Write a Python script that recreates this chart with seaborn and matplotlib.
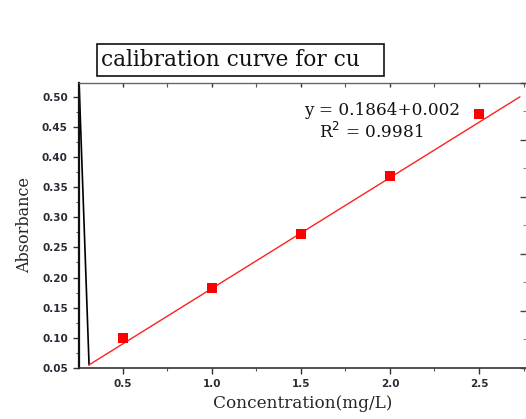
import matplotlib
matplotlib.use('Agg')
import matplotlib.pyplot as plt
import matplotlib.patches as patches
from matplotlib.ticker import MultipleLocator, NullFormatter
import pandas as pd
import seaborn as sns

# measured calibration points
conc = [0.5, 1.0, 1.5, 2.0, 2.5]
absorb = [0.099, 0.182, 0.272, 0.368, 0.472]

# fitted line as drawn in the original (red) and the stray black segment
fit_x = [0.31, 2.73]
fit_y = [0.055, 0.500]
stray_x = [0.255, 0.31]
stray_y = [0.515, 0.055]

title_text = 'calibration curve for cu'
eq_text = 'y = 0.1864+0.002'
r2_text = 'R$^2$ = 0.9981'

sns.set_style('ticks')
plt.rcParams['font.family'] = ['DejaVu Serif']

fig = plt.figure(figsize=(5.26, 4.19), dpi=100)
ax = fig.add_axes([0.150, 0.122, 0.850, 0.680])

df_pts = pd.DataFrame({'conc': conc, 'abs': absorb})
df_fit = pd.DataFrame({'x': fit_x, 'y': fit_y})
df_stray = pd.DataFrame({'x': stray_x, 'y': stray_y})

sns.lineplot(data=df_stray, x='x', y='y', ax=ax, color='black', linewidth=1.2, sort=False)
sns.lineplot(data=df_fit, x='x', y='y', ax=ax, color='#ff2020', linewidth=1.0, sort=False)
sns.scatterplot(data=df_pts, x='conc', y='abs', ax=ax, marker='s', s=42,
                color='#ff0000', edgecolor='#ff0000', linewidth=0, zorder=5)

ax.set_xlim(0.253, 2.764)
ax.set_ylim(0.05, 0.523)
ax.xaxis.set_major_locator(MultipleLocator(0.5))
ax.xaxis.set_minor_locator(MultipleLocator(0.25))
ax.yaxis.set_major_locator(MultipleLocator(0.05))
ax.yaxis.set_minor_locator(MultipleLocator(0.025))
ax.set_xticks([0.5, 1.0, 1.5, 2.0, 2.5])
ax.set_yticks([0.05, 0.10, 0.15, 0.20, 0.25, 0.30, 0.35, 0.40, 0.45, 0.50])
ax.set_xticklabels(['0.5', '1.0', '1.5', '2.0', '2.5'])
ax.set_yticklabels(['%.2f' % v for v in ax.get_yticks()])

for lab in ax.get_xticklabels() + ax.get_yticklabels():
    lab.set_family('DejaVu Sans')
    lab.set_fontweight('bold')
    lab.set_fontsize(7.5)
    lab.set_color('#2a2a35')

ax.tick_params(which='major', direction='out', length=4, width=1, color='#333333', pad=4)
ax.tick_params(which='minor', direction='out', length=2, width=0.8, color='#555555')
ax.tick_params(axis='x', which='both', top=True, labeltop=False)

ax.spines['left'].set_linewidth(1.6)
ax.spines['left'].set_color('#111111')
ax.spines['bottom'].set_linewidth(1.2)
ax.spines['bottom'].set_color('#333333')
ax.spines['top'].set_linewidth(1.0)
ax.spines['top'].set_color('#666666')
ax.spines['right'].set_visible(False)

# the top ticks point inward
for t in ax.xaxis.get_major_ticks() + ax.xaxis.get_minor_ticks():
    t.tick2line.set_marker(3)
    t.tick2line.set_markersize(3)

# right-hand axis with only tick marks
ax2 = ax.twinx()
ax2.set_ylim(0, 5)
ax2.yaxis.set_major_locator(MultipleLocator(1))
ax2.yaxis.set_minor_locator(MultipleLocator(0.5))
ax2.yaxis.set_major_formatter(NullFormatter())
ax2.tick_params(which='major', direction='in', length=4, width=1, color='#444444')
ax2.tick_params(which='minor', direction='in', length=2, width=0.8, color='#888888')
for side in ax2.spines:
    ax2.spines[side].set_visible(False)

ax.set_xlabel('Concentration(mg/L)', fontsize=12.2, labelpad=4)
ax.set_ylabel('Absorbance', fontsize=11.5, labelpad=6)

ax.text(1.52, 0.478, eq_text, fontsize=12.2, va='center', ha='left', color='#111111')
ax.text(1.60, 0.441, r2_text, fontsize=12.2, va='center', ha='left', color='#111111')

# boxed title
box = patches.Rectangle((97 / 526, 1 - 76 / 419), 287 / 526, 32 / 419,
                        transform=fig.transFigure, fill=False, edgecolor='#111111', linewidth=1.2)
fig.patches.append(box)
fig.text(101 / 526, 1 - 60 / 419, title_text, fontsize=15.6, va='center', ha='left', color='#111111')

fig.savefig('out.png', dpi=100)
